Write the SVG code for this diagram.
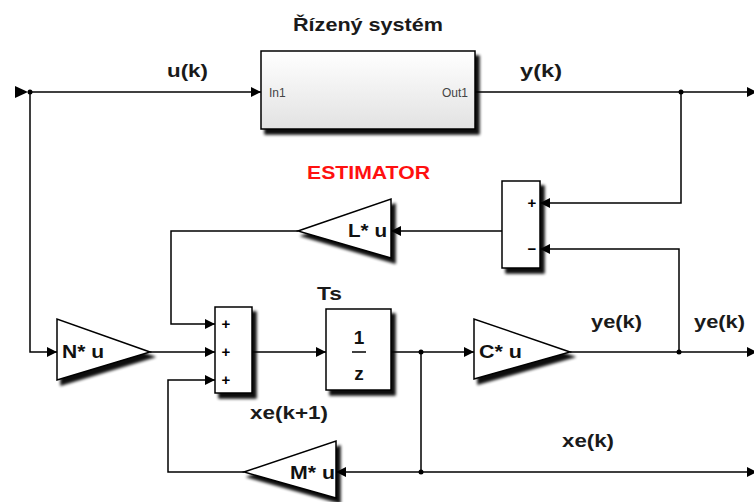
<svg xmlns="http://www.w3.org/2000/svg" width="754" height="502" viewBox="0 0 754 502">
<style>
.w{fill:none;stroke:#000;stroke-width:1.5}
.a{fill:none;stroke:#000;stroke-width:1.5;marker-end:url(#ah)}
.blk{fill:#fff;stroke:#000;stroke-width:1.5}
.lbl{font-family:"Liberation Sans",Arial,sans-serif;font-weight:bold;font-size:18px;fill:#1a1a1a}
.g{font-family:"Liberation Sans",Arial,sans-serif;font-weight:bold;font-size:19px;fill:#111}
.pm{font-family:"Liberation Sans",Arial,sans-serif;font-weight:bold;font-size:15px;fill:#000;text-anchor:middle}
.port{font-family:"Liberation Sans",Arial,sans-serif;font-size:12px;fill:#444}
.dot{fill:#000}
</style>
<defs>
<marker id="ah" markerUnits="userSpaceOnUse" markerWidth="11" markerHeight="11" refX="10" refY="5" orient="auto">
<path d="M0,0 L10,5 L0,10 z" fill="#000"/>
</marker>
<filter id="sh" x="-20%" y="-20%" width="150%" height="150%">
<feGaussianBlur in="SourceAlpha" stdDeviation="1.8"/>
<feOffset dx="4" dy="5" result="b"/>
<feComponentTransfer><feFuncA type="linear" slope="0.95"/></feComponentTransfer>
<feMerge><feMergeNode/><feMergeNode in="SourceGraphic"/></feMerge>
</filter>
<linearGradient id="gr" x1="0" y1="0" x2="0" y2="1">
<stop offset="0" stop-color="#ffffff"/>
<stop offset="1" stop-color="#e2e2e2"/>
</linearGradient>
</defs>
<rect width="754" height="502" fill="#fff"/>

<g id="connectors">
<polygon points="15,86 28,92 15,98" fill="#000"/>
<line class="w" x1="28" y1="92" x2="30" y2="92"/>
<path class="a" d="M30,92 H261"/>
<path class="a" d="M30,92 V352 H57"/>
<path class="a" d="M475,92 H757"/>
<path class="a" d="M681,92 V203 H540"/>
<path class="a" d="M502,231 H391"/>
<path class="a" d="M298,231 H171 V324 H215"/>
<path class="a" d="M150,352 H215"/>
<path class="a" d="M252,352 H326"/>
<path class="a" d="M391,352 H474"/>
<path class="a" d="M570,352 H757"/>
<path class="a" d="M679,352 V249 H540"/>
<path class="a" d="M421,352 V472 H757"/>
<path class="a" d="M421,472 H336"/>
<path class="a" d="M244,472 H168 V380 H215"/>
<circle class="dot" cx="30" cy="92" r="2.5"/>
<circle class="dot" cx="681" cy="92" r="2.5"/>
<circle class="dot" cx="421" cy="352" r="2.5"/>
<circle class="dot" cx="679" cy="352" r="2.5"/>
<circle class="dot" cx="421" cy="472" r="2.5"/>
</g>

<g id="labels">
<text class="lbl" x="293" y="31" textLength="150" lengthAdjust="spacingAndGlyphs">Řízený systém</text>
<text class="lbl" x="167" y="77" textLength="41" lengthAdjust="spacingAndGlyphs">u(k)</text>
<text class="lbl" x="520" y="77" textLength="42" lengthAdjust="spacingAndGlyphs">y(k)</text>
<text class="lbl" x="307" y="179" textLength="123" lengthAdjust="spacingAndGlyphs" style="fill:#ff1010">ESTIMATOR</text>
<text class="lbl" x="317" y="300" textLength="25" lengthAdjust="spacingAndGlyphs">Ts</text>
<text class="lbl" x="591" y="328" textLength="51" lengthAdjust="spacingAndGlyphs">ye(k)</text>
<text class="lbl" x="694" y="328" textLength="51" lengthAdjust="spacingAndGlyphs">ye(k)</text>
<text class="lbl" x="250" y="419" textLength="78" lengthAdjust="spacingAndGlyphs">xe(k+1)</text>
<text class="lbl" x="562" y="447" textLength="52" lengthAdjust="spacingAndGlyphs">xe(k)</text>
</g>

<g id="plant">
<rect x="261" y="51" width="214" height="78" fill="url(#gr)" stroke="#000" stroke-width="1.5" filter="url(#sh)"/>
<text class="port" x="269" y="97">In1</text>
<text class="port" x="468" y="97" text-anchor="end">Out1</text>
</g>

<g id="sumEst">
<rect class="blk" x="502" y="181" width="38" height="87" filter="url(#sh)"/>
<text class="pm" x="532" y="208">+</text>
<text class="pm" x="532" y="254">−</text>
</g>

<g id="gainL">
<polygon class="blk" points="391,199 391,258 298,231" filter="url(#sh)"/>
<text class="g" x="348" y="237" textLength="39" lengthAdjust="spacingAndGlyphs">L* u</text>
</g>

<g id="gainN">
<polygon class="blk" points="57,319 57,380 150,352" filter="url(#sh)"/>
<text class="g" x="62" y="358" textLength="42" lengthAdjust="spacingAndGlyphs">N* u</text>
</g>

<g id="sum">
<rect class="blk" x="215" y="307" width="37" height="86" filter="url(#sh)"/>
<text class="pm" x="226" y="329">+</text>
<text class="pm" x="226" y="357">+</text>
<text class="pm" x="226" y="385">+</text>
</g>

<g id="delay">
<rect class="blk" x="326" y="309" width="65" height="81" filter="url(#sh)"/>
<text class="g" x="359" y="344" text-anchor="middle">1</text>
<line x1="352" y1="352" x2="366" y2="352" stroke="#000" stroke-width="1.5"/>
<text class="g" x="359" y="380" text-anchor="middle">z</text>
</g>

<g id="gainC">
<polygon class="blk" points="474,319 474,379 570,352" filter="url(#sh)"/>
<text class="g" x="479" y="358" textLength="43" lengthAdjust="spacingAndGlyphs">C* u</text>
</g>

<g id="gainM">
<polygon class="blk" points="336,441 336,498 244,472" filter="url(#sh)"/>
<text class="g" x="290" y="479" textLength="45" lengthAdjust="spacingAndGlyphs">M* u</text>
</g>
</svg>
